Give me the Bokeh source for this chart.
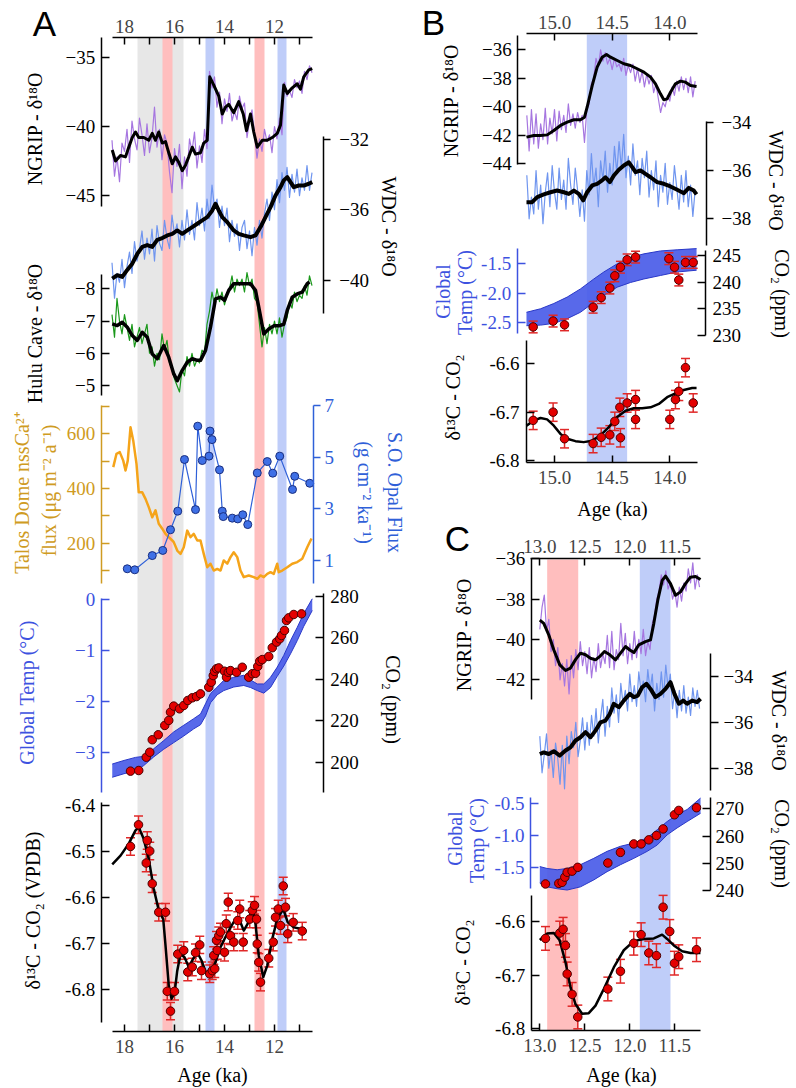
import math
from bokeh.plotting import figure
from bokeh.models import Range1d, LinearAxis, FixedTicker, Label, PrintfTickFormatter, BasicTickFormatter
from bokeh.embed import file_html
from bokeh.resources import INLINE

# ======================= DATA =======================
# ---------- Panel A (age in ka) ----------
a_gray_l = [17.48]; a_gray_r = [15.64]
a_pink_l = [16.48, 12.80]; a_pink_r = [16.08, 12.40]
a_blue_l = [14.76, 11.88]; a_blue_r = [14.40, 11.52]

a_raw_age = [18.5,18.4,18.3,18.2,18.1,18.0,17.9,17.8,17.7,17.6,17.5,17.4,17.3,17.2,17.1,17.0,16.9,16.8,16.7,16.6,
             16.5,16.4,16.3,16.2,16.1,16.0,15.9,15.8,15.7,15.6,15.5,15.4,15.3,15.2,15.1,15.0,14.9,14.8,14.7,14.6,
             14.5,14.4,14.3,14.2,14.1,14.0,13.9,13.8,13.7,13.6,13.5,13.4,13.3,13.2,13.1,13.0,12.9,12.8,12.7,12.6,
             12.5,12.4,12.3,12.2,12.1,12.0,11.9,11.8,11.7,11.6,11.5,11.4,11.3,11.2,11.1,11.0,10.9,10.8,10.7,10.6,10.5]
ngrip_a_raw = [-41.0,-43.6,-42.2,-44.0,-41.2,-41.8,-40.2,-42.6,-39.6,-40.9,-41.7,-39.4,-40.6,-42.1,-39.8,-41.9,-40.8,-38.6,-41.5,-40.2,
               -42.4,-40.6,-41.2,-43.3,-44.8,-41.6,-42.9,-41.3,-44.5,-42.2,-43.6,-40.9,-41.8,-40.4,-43.0,-41.4,-42.6,-40.2,-41.6,-36.0,
               -37.2,-36.4,-38.6,-37.5,-39.8,-38.0,-38.9,-37.6,-39.6,-38.9,-39.5,-37.8,-38.7,-38.3,-40.8,-39.6,-38.8,-40.5,-42.3,-40.9,
               -41.8,-40.2,-41.1,-40.6,-41.9,-40.0,-40.9,-39.4,-40.6,-36.8,-37.8,-37.4,-37.9,-36.6,-37.2,-36.7,-37.6,-36.0,-36.6,-35.6,-36.1]
wdc_a_raw = [-39.0,-41.0,-39.6,-40.1,-38.8,-40.4,-39.2,-38.4,-39.6,-37.8,-38.9,-38.2,-37.2,-38.8,-37.6,-38.5,-37.1,-38.9,-36.9,-37.9,
             -38.3,-36.6,-37.6,-38.2,-36.3,-37.4,-36.8,-38.1,-36.6,-37.7,-36.0,-37.4,-36.6,-37.7,-35.6,-36.9,-35.9,-37.2,-35.4,-36.5,
             -34.6,-35.9,-35.4,-37.0,-35.8,-36.9,-35.9,-37.8,-36.6,-37.5,-36.8,-38.3,-37.0,-36.6,-38.2,-37.2,-38.6,-37.0,-38.0,-36.6,
             -37.6,-36.2,-35.4,-36.6,-35.0,-36.0,-34.3,-35.6,-33.9,-34.9,-33.6,-35.3,-34.0,-35.0,-33.7,-35.2,-34.2,-34.9,-33.5,-34.9,-33.9]
hulu_a_raw = [-7.2,-6.5,-7.7,-7.0,-6.6,-7.2,-6.8,-6.4,-6.9,-6.2,-6.5,-6.8,-6.3,-6.6,-6.9,-6.0,-6.2,-5.6,-6.0,-5.8,
              -6.6,-6.1,-6.4,-5.7,-5.5,-5.2,-5.0,-4.8,-5.5,-5.3,-5.9,-5.6,-6.0,-5.6,-5.8,-5.7,-6.1,-6.0,-6.9,-7.3,
              -7.9,-7.5,-8.0,-7.6,-7.9,-7.5,-7.8,-8.0,-8.4,-7.9,-8.3,-8.1,-8.3,-7.9,-8.5,-8.1,-8.3,-7.7,-7.6,-6.9,
              -6.2,-6.8,-6.3,-6.9,-6.6,-7.0,-6.6,-7.1,-6.5,-6.9,-7.1,-7.6,-7.4,-7.9,-7.6,-7.8,-7.7,-8.1,-7.8,-8.4,-8.1]

ngrip_a_s_age = [18.49,18.36,18.16,17.96,17.83,17.69,17.56,17.43,17.23,17.03,16.89,16.76,16.63,16.49,16.36,16.23,16.09,15.96,15.83,15.69,
                 15.56,15.43,15.29,15.16,14.96,14.83,14.69,14.59,14.43,14.23,14.09,13.96,13.83,13.63,13.43,13.25,13.12,12.96,12.83,12.69,
                 12.49,12.29,12.09,11.89,11.76,11.63,11.49,11.29,11.09,10.96,10.83,10.63,10.49]
ngrip_a_s = [-41.7,-42.5,-42.1,-42.2,-41.5,-40.8,-40.4,-40.8,-40.8,-41.0,-40.5,-41.0,-40.4,-41.2,-41.1,-41.9,-42.7,-42.2,-42.6,-43.2,
             -42.8,-42.2,-41.5,-42.0,-41.9,-41.2,-41.0,-36.4,-37.0,-37.8,-39.1,-38.6,-38.4,-39.0,-38.2,-39.1,-40.3,-39.1,-40.4,-41.5,
             -41.0,-41.0,-40.8,-40.5,-39.9,-37.0,-37.6,-37.2,-36.9,-37.3,-36.4,-35.9,-35.8]
wdc_a_s_age = [18.49,18.29,18.09,17.89,17.69,17.49,17.29,17.09,16.89,16.69,16.49,16.29,16.09,15.89,15.69,15.49,15.29,15.09,14.89,14.69,
               14.49,14.36,14.23,14.09,13.89,13.63,13.43,13.23,12.96,12.76,12.56,12.36,12.16,11.96,11.76,11.63,11.49,11.36,11.23,11.03,
               10.83,10.63,10.49]
wdc_a_s = [-39.9,-39.7,-39.8,-39.4,-39.05,-38.5,-38.1,-38.0,-38.1,-37.7,-37.6,-37.45,-37.36,-37.17,-37.36,-37.17,-36.98,-36.79,-36.6,-36.42,
           -36.04,-35.66,-36.04,-36.42,-36.7,-37.17,-37.36,-37.45,-37.55,-37.45,-36.98,-36.42,-35.85,-35.19,-34.72,-34.34,-34.16,-34.44,-34.72,-34.63,
           -34.63,-34.53,-34.44]
hulu_a_s_age = [18.49,18.29,18.09,17.89,17.69,17.49,17.29,17.09,16.89,16.69,16.43,16.23,16.03,15.89,15.69,15.49,15.29,15.09,14.96,14.76,
                14.56,14.36,14.16,14.00,13.83,13.63,13.36,13.16,12.96,12.76,12.63,12.43,12.23,12.03,11.83,11.63,11.49,11.29,11.09,10.89,
                10.69,10.60]
hulu_a_s = [-6.91,-6.86,-6.96,-6.81,-6.55,-6.40,-6.65,-6.50,-5.98,-5.83,-6.24,-5.88,-5.36,-5.15,-5.47,-5.72,-5.83,-5.78,-5.78,-6.09,
            -6.81,-7.69,-7.74,-7.64,-7.95,-8.16,-8.16,-8.16,-8.16,-7.95,-7.43,-6.60,-6.75,-6.85,-6.85,-6.90,-7.33,-7.74,-7.84,-7.90,
            -8.16,-8.21]

talos_age = [18.45,18.32,18.19,18.05,17.96,17.87,17.76,17.65,17.52,17.43,17.29,17.16,17.03,16.89,16.76,16.63,16.49,16.36,16.23,16.09,
             16.03,15.89,15.76,15.63,15.49,15.36,15.23,15.09,14.96,14.83,14.69,14.56,14.43,14.29,14.16,14.03,13.89,13.76,13.63,13.49,
             13.36,13.23,13.03,12.83,12.69,12.56,12.43,12.29,12.16,12.03,11.89,11.83,11.69,11.49,11.29,11.09,10.89,10.69,10.52]
talos_ca = [478,527,533,502,466,502,624,575,490,386,386,362,332,295,320,271,253,234,222,210,
            204,173,161,185,246,222,234,210,210,161,112,125,100,106,100,137,125,149,167,149,
            100,76,82,76,70,82,76,88,94,88,125,94,100,112,125,131,143,185,217]

opal_age = [17.89,17.59,16.89,16.47,16.16,15.87,15.60,15.16,15.07,14.89,14.62,14.58,14.50,14.20,14.09,14.05,13.69,13.47,13.27,13.07,
            12.69,12.29,12.07,11.79,11.28,11.19,10.59]
opal_flux = [0.68,0.64,1.19,1.39,2.19,2.91,4.91,2.97,6.20,4.87,5.04,6.01,5.68,4.51,2.91,2.70,2.64,2.61,2.77,2.39,
             4.39,4.83,4.38,5.04,3.75,4.26,3.99]

temp_a_age = [18.49,18.02,17.56,17.23,16.83,16.43,16.03,15.63,15.23,14.96,14.76,14.56,14.29,14.03,13.63,13.23,12.96,12.69,12.43,12.16,
              11.89,11.63,11.36,11.09,10.83,10.49]
temp_a_hi = [-3.22,-3.15,-3.09,-3.07,-2.92,-2.76,-2.59,-2.46,-2.33,-2.24,-2.04,-1.84,-1.71,-1.58,-1.52,-1.48,-1.57,-1.65,-1.65,-1.52,
             -1.32,-1.09,-0.80,-0.54,-0.27,0.02]
temp_a_lo = [-3.48,-3.41,-3.35,-3.25,-3.08,-2.93,-2.80,-2.67,-2.53,-2.45,-2.28,-2.02,-1.86,-1.78,-1.71,-1.68,-1.72,-1.78,-1.83,-1.72,
             -1.50,-1.30,-1.06,-0.80,-0.52,-0.21]

co2_a_age = [17.76,17.43,17.13,16.99,16.89,16.65,16.39,16.23,16.16,16.03,15.80,15.63,15.47,15.29,15.12,14.96,14.63,14.53,14.45,14.40,
             14.32,14.23,14.00,13.92,13.85,13.76,13.52,13.29,13.03,12.89,12.76,12.67,12.59,12.49,12.23,12.09,11.92,11.79,11.72,11.60,
             11.52,11.43,11.23,10.92]
co2_a = [195.7,196.0,202.4,204.8,210.8,213.2,217.7,220.1,224.1,227.0,225.7,227.3,229.7,231.0,231.6,232.9,236.1,238.5,241.7,243.7,
         245.0,245.4,243.8,240.9,243.3,244.1,243.3,245.7,240.9,242.6,242.8,246.1,248.6,249.4,250.9,255.1,257.8,259.4,261.0,263.4,
         268.2,269.5,271.1,271.4]

d13c_a_age = [17.76,17.44,17.13,17.09,16.99,16.89,16.63,16.36,16.29,16.16,16.00,15.87,15.63,15.47,15.29,15.16,14.99,14.92,14.59,14.49,
              14.43,14.39,14.32,14.29,14.23,14.16,14.00,13.93,13.85,13.76,13.63,13.47,13.39,13.25,12.99,12.89,12.80,12.72,12.69,12.63,
              12.56,12.23,12.05,11.96,11.85,11.76,11.65,11.56,11.47,11.25,10.89]
d13c_a = [-6.489,-6.442,-6.525,-6.476,-6.499,-6.570,-6.632,-6.632,-6.804,-6.847,-6.804,-6.723,-6.715,-6.762,-6.751,-6.720,-6.703,-6.759,-6.766,-6.759,
          -6.726,-6.755,-6.693,-6.715,-6.683,-6.675,-6.719,-6.657,-6.610,-6.683,-6.697,-6.650,-6.625,-6.697,-6.647,-6.628,-6.617,-6.647,-6.701,-6.741,
          -6.784,-6.732,-6.697,-6.643,-6.625,-6.661,-6.575,-6.621,-6.679,-6.654,-6.673]
d13c_a_err = 0.019
d13c_a_s_age = [18.49,18.16,17.83,17.56,17.43,17.23,17.03,16.83,16.63,16.45,16.36,16.23,16.12,16.00,15.89,15.76,15.60,15.43,15.25,15.09,
                14.92,14.72,14.56,14.36,14.16,13.96,13.76,13.56,13.39,13.23,13.07,12.89,12.76,12.63,12.45,12.29,12.09,11.89,11.65,11.47,
                11.23,10.96]
d13c_a_s = [-6.528,-6.509,-6.483,-6.454,-6.447,-6.473,-6.516,-6.581,-6.628,-6.647,-6.704,-6.791,-6.820,-6.809,-6.759,-6.723,-6.730,-6.751,-6.733,-6.719,
            -6.737,-6.766,-6.762,-6.741,-6.708,-6.686,-6.665,-6.647,-6.650,-6.672,-6.657,-6.621,-6.657,-6.726,-6.773,-6.748,-6.690,-6.647,-6.625,-6.654,
            -6.665,-6.668]

# ---------- Panel B ----------
b_blue_l = [14.72]; b_blue_r = [14.37]
b_raw_age = [15.24,15.22,15.20,15.18,15.16,15.14,15.12,15.10,15.08,15.06,15.04,15.02,15.00,14.98,14.96,14.94,14.92,14.90,14.88,14.86,
             14.84,14.82,14.80,14.78,14.76,14.74,14.72,14.70,14.68,14.66,14.64,14.62,14.60,14.58,14.56,14.54,14.52,14.50,14.48,14.46,
             14.44,14.42,14.40,14.38,14.36,14.34,14.32,14.30,14.28,14.26,14.24,14.22,14.20,14.18,14.16,14.14,14.12,14.10,14.08,14.06,
             14.04,14.02,14.00,13.98,13.96,13.94,13.92,13.90,13.88,13.86,13.84,13.82,13.80,13.78]
ngrip_b_raw = [-40.6,-43.1,-40.2,-42.6,-40.5,-42.9,-41.2,-42.3,-40.1,-42.6,-40.8,-41.9,-40.2,-42.4,-40.3,-41.6,-40.6,-41.8,-39.8,-41.3,
               -40.5,-41.5,-40.4,-41.1,-40.6,-42.5,-40.2,-39.8,-38.4,-38.0,-36.6,-37.2,-36.0,-36.8,-36.2,-37.0,-36.6,-37.4,-36.6,-37.2,
               -37.0,-37.5,-36.6,-37.8,-37.1,-37.6,-37.0,-38.2,-37.3,-38.3,-37.5,-38.6,-37.7,-38.4,-37.8,-39.0,-38.4,-39.4,-40.4,-39.7,
               -40.0,-39.2,-39.6,-38.6,-39.2,-38.2,-38.9,-37.9,-38.8,-38.0,-39.0,-37.9,-39.3,-38.2]
wdc_b_raw = [-36.2,-38.0,-37.1,-37.8,-36.0,-37.6,-36.6,-38.2,-36.9,-36.1,-37.5,-35.8,-36.9,-37.6,-35.9,-37.2,-36.4,-37.6,-35.5,-36.6,
             -37.4,-35.9,-36.8,-37.9,-36.8,-38.1,-36.0,-37.0,-35.3,-36.7,-35.9,-37.5,-35.6,-36.4,-35.2,-36.9,-35.7,-36.6,-35.0,-36.1,
             -34.8,-35.9,-34.5,-36.3,-35.4,-36.6,-34.9,-36.2,-35.6,-37.0,-35.5,-36.3,-35.2,-37.1,-36.0,-36.8,-35.6,-37.5,-36.2,-36.9,
             -35.7,-37.4,-36.5,-37.2,-35.8,-36.7,-37.6,-36.2,-37.3,-36.0,-37.5,-36.6,-37.9,-36.8]
ngrip_b_s_age = [15.243,15.179,15.121,15.063,15.006,14.948,14.890,14.832,14.775,14.740,14.717,14.673,14.630,14.587,14.549,14.514,14.456,14.399,14.341,14.283,
                 14.225,14.167,14.124,14.081,14.052,14.023,13.994,13.951,13.907,13.864,13.820,13.768]
ngrip_b_s = [-42.13,-42.01,-42.01,-41.97,-41.66,-41.31,-41.08,-40.91,-40.91,-40.73,-40.03,-38.51,-37.22,-36.52,-36.33,-36.52,-36.75,-36.98,-37.10,-37.33,
             -37.57,-37.92,-38.39,-39.09,-39.51,-39.44,-38.98,-38.39,-38.20,-38.27,-38.51,-38.58]
wdc_b_s_age = [15.243,15.194,15.150,15.093,15.035,14.977,14.919,14.876,14.832,14.789,14.751,14.717,14.673,14.630,14.587,14.558,14.520,14.485,14.442,14.399,
               14.355,14.326,14.297,14.254,14.211,14.167,14.110,14.052,13.994,13.936,13.878,13.835,13.792,13.768]
wdc_b_s = [-37.31,-37.31,-37.10,-36.99,-36.90,-36.83,-36.90,-36.97,-36.83,-36.97,-37.24,-36.90,-36.62,-36.55,-36.41,-36.28,-36.48,-36.21,-35.97,-35.79,
           -35.66,-35.86,-36.07,-36.00,-36.14,-36.28,-36.48,-36.55,-36.66,-36.80,-36.94,-36.72,-36.83,-36.99]
temp_b_age = [15.243,15.121,15.006,14.890,14.775,14.659,14.572,14.456,14.341,14.225,14.081,13.936,13.768]
temp_b_hi = [-2.33,-2.27,-2.18,-2.07,-1.93,-1.76,-1.64,-1.50,-1.39,-1.33,-1.28,-1.26,-1.24]
temp_b_lo = [-2.56,-2.55,-2.52,-2.44,-2.33,-2.16,-2.04,-1.90,-1.82,-1.76,-1.70,-1.64,-1.61]
co2_b_age = [15.185,15.012,14.913,14.665,14.595,14.520,14.477,14.428,14.370,14.297,14.008,13.959,13.922,13.864,13.797]
co2_b = [231.6,232.7,232.0,235.3,237.1,238.9,241.2,242.8,244.2,244.7,244.4,242.8,240.4,243.7,243.7]
co2_b_err = 1.1
d13c_b_age = [15.185,15.012,14.913,14.665,14.595,14.520,14.477,14.433,14.428,14.370,14.297,14.297,14.000,13.951,13.922,13.864,13.797]
d13c_b = [-6.717,-6.700,-6.755,-6.765,-6.752,-6.747,-6.719,-6.690,-6.753,-6.681,-6.674,-6.715,-6.715,-6.674,-6.657,-6.608,-6.681]
d13c_b_err = 0.019
d13c_b_s_age = [15.243,15.179,15.121,15.064,15.006,14.948,14.890,14.818,14.746,14.673,14.601,14.529,14.456,14.384,14.312,14.240,14.167,14.095,14.023,13.951,
                13.879,13.806,13.768]
d13c_b_s = [-6.728,-6.717,-6.712,-6.715,-6.728,-6.745,-6.755,-6.760,-6.762,-6.759,-6.748,-6.731,-6.710,-6.697,-6.692,-6.692,-6.690,-6.683,-6.669,-6.661,
            -6.654,-6.650,-6.650]

# ---------- Panel C ----------
c_pink_l = [12.918]; c_pink_r = [12.573]
c_blue_l = [11.889]; c_blue_r = [11.548]
c_raw_age = [13.000,12.975,12.950,12.925,12.900,12.875,12.850,12.825,12.800,12.775,12.750,12.725,12.700,12.675,12.650,12.625,12.600,12.575,
             12.550,12.525,12.500,12.475,12.450,12.425,12.400,12.375,12.350,12.325,12.300,12.275,12.250,12.225,12.200,12.175,12.150,12.125,
             12.100,12.075,12.050,12.025,12.000,11.975,11.950,11.925,11.900,11.875,11.850,11.825,11.800,11.775,11.750,11.725,11.700,11.675,
             11.650,11.625,11.600,11.575,11.550,11.525,11.500,11.475,11.450,11.425,11.400,11.375,11.350,11.325,11.300,11.275,11.250,11.225]
ngrip_c_raw = [-39.5,-38.4,-37.8,-39.6,-39.0,-40.6,-40.0,-41.3,-40.4,-42.0,-41.2,-42.3,-41.0,-42.7,-40.8,-41.9,-40.5,-41.5,
               -40.1,-41.3,-40.6,-41.7,-40.4,-41.9,-40.9,-41.6,-40.2,-41.4,-40.7,-41.2,-39.8,-41.4,-39.6,-41.5,-40.5,-41.0,
               -39.2,-40.8,-39.7,-41.2,-40.2,-41.0,-39.6,-40.9,-40.0,-40.7,-39.5,-40.8,-40.1,-40.5,-39.2,-38.8,-38.0,-37.6,
               -36.8,-37.3,-36.6,-37.5,-37.2,-38.0,-37.6,-38.4,-37.4,-38.1,-37.2,-37.6,-36.5,-37.2,-36.2,-37.5,-36.8,-37.4]
wdc_c_raw = [-36.6,-38.2,-37.4,-36.5,-38.0,-37.2,-38.4,-36.9,-37.6,-38.7,-37.0,-38.9,-36.6,-37.8,-36.4,-37.1,-36.0,-37.5,
             -36.8,-35.8,-37.2,-36.0,-37.0,-35.7,-36.6,-35.4,-36.9,-35.8,-35.0,-36.6,-35.3,-36.2,-34.5,-35.6,-34.8,-36.0,
             -34.3,-35.2,-34.6,-35.5,-33.9,-35.1,-34.4,-35.3,-33.8,-34.7,-34.2,-35.1,-33.7,-34.6,-33.9,-35.5,-34.3,-35.0,
             -33.8,-34.9,-33.5,-34.5,-33.9,-35.4,-34.6,-35.8,-34.6,-35.5,-34.4,-35.6,-34.9,-35.7,-34.5,-35.3,-34.6,-35.4]
ngrip_c_s_age = [13.0,12.956,12.9,12.844,12.778,12.714,12.659,12.603,12.548,12.492,12.437,12.381,12.326,12.281,12.222,12.159,12.103,12.048,12.0,11.955,
                 11.9,11.826,11.770,11.733,11.689,11.640,11.603,11.548,11.492,11.437,11.381,11.326,11.270,11.214]
ngrip_c_s = [-39.04,-39.20,-39.78,-40.52,-41.26,-41.54,-41.42,-41.0,-40.68,-40.76,-40.93,-41.01,-40.81,-40.60,-40.76,-41.01,-40.68,-40.35,-40.52,-40.65,
             -40.27,-40.11,-40.02,-39.20,-38.05,-37.07,-36.86,-37.23,-37.81,-37.64,-37.23,-36.91,-36.88,-37.03]
wdc_c_s_age = [13.0,12.956,12.9,12.844,12.778,12.714,12.659,12.603,12.548,12.492,12.437,12.381,12.326,12.270,12.222,12.178,12.122,12.067,12.0,11.955,
               11.911,11.863,11.815,11.770,11.715,11.659,11.603,11.548,11.504,11.455,11.407,11.363,11.307,11.252,11.214]
wdc_c_s = [-37.38,-37.31,-37.38,-37.26,-37.45,-37.23,-37.09,-36.79,-36.65,-36.43,-36.65,-36.36,-36.0,-35.92,-35.63,-35.19,-35.34,-35.05,-34.76,-34.90,
           -34.83,-34.47,-34.32,-34.54,-34.90,-34.76,-34.54,-34.25,-34.76,-35.19,-35.05,-35.19,-35.05,-35.12,-34.97]
temp_c_age = [13.0,12.919,12.807,12.696,12.548,12.400,12.252,12.103,11.955,11.807,11.696,11.585,11.474,11.363,11.214]
temp_c_hi = [-1.49,-1.52,-1.54,-1.52,-1.46,-1.36,-1.25,-1.17,-1.12,-1.04,-0.91,-0.78,-0.67,-0.59,-0.41]
temp_c_lo = [-1.75,-1.81,-1.84,-1.86,-1.81,-1.70,-1.57,-1.46,-1.36,-1.25,-1.15,-0.99,-0.88,-0.78,-0.65]
co2_c_age = [12.937,12.789,12.752,12.722,12.696,12.641,12.578,12.244,12.104,11.956,11.874,11.789,11.704,11.630,11.504,11.456,11.259]
co2_c = [242.4,242.6,243.0,244.9,246.7,247.1,248.5,250.1,254.0,257.1,257.1,258.6,260.2,262.6,267.8,269.4,270.4]
d13c_c_age = [12.937,12.778,12.741,12.715,12.696,12.641,12.578,12.244,12.104,11.956,11.874,11.789,11.704,11.630,11.556,11.504,11.456,11.259]
d13c_c = [-6.632,-6.622,-6.615,-6.645,-6.698,-6.736,-6.778,-6.726,-6.693,-6.641,-6.625,-6.659,-6.664,-6.574,-6.619,-6.678,-6.666,-6.653]
d13c_c_err = 0.022
d13c_c_s_age = [13.0,12.919,12.844,12.778,12.715,12.659,12.604,12.530,12.456,12.381,12.289,12.178,12.067,11.956,11.844,11.733,11.641,11.585,11.511,11.418,
                11.326,11.215]
d13c_c_s = [-6.635,-6.623,-6.622,-6.636,-6.676,-6.723,-6.754,-6.772,-6.771,-6.757,-6.726,-6.686,-6.654,-6.637,-6.633,-6.632,-6.625,-6.633,-6.645,-6.656,
            -6.659,-6.659]

# tick values
a_age_ticks = [18, 16, 14, 12]; a_age_minor = [17, 15, 13, 11]
b_age_ticks = [15.0, 14.5, 14.0]
c_age_ticks = [13.0, 12.5, 12.0, 11.5]

# ======================= STYLE / LAYOUT =======================
SERIF = "Liberation Serif"
SANS = "Liberation Sans"
TICK_FS = "19px"
LAB_FS = "20px"
PURPLE = "#a676e0"; LBLUE = "#6f95ef"; GREEN = "#1a981a"
ORANGE = "#f5a41a"; GOLD = "#cf9b22"
OBLUE = "#2f60d8"; OFILL = "#3f70e6"
TBLUE = "#3d52e0"; TFILL = "#4a5ce8"; TEDGE = "#2a38c8"
RED = "#e40000"; REDBAR = "#e02828"; REDEDGE = "#4a0000"
GRAY = "#e7e7e7"; PINK = "#ffbebe"; BLUEB = "#bfcdf9"

W, H, X0, Y0 = 796, 1088, 0, 0


def yr(v1, y1, v2, y2):
    k = (v2 - v1) / (y2 - y1)
    return Range1d(start=v1 + k * (Y0 + H - y1), end=v1 + k * (Y0 - y1))


def xr(v1, x1, v2, x2):
    k = (v2 - v1) / (x2 - x1)
    return Range1d(start=v1 + k * (X0 - x1), end=v1 + k * (X0 + W - x1))


XR = {"xA": xr(18, 124, 12, 274), "xB": xr(15.0, 554, 14.0, 669.3), "xC": xr(13.0, 539.3, 12.0, 629.3)}
YR = {
    "ngA": yr(-35, 57, -45, 195), "wdA": yr(-32, 138.5, -40, 280), "huA": yr(-8, 288.3, -5, 385),
    "taA": yr(600, 433.3, 200, 542.7), "opA": yr(7, 405, 1, 560), "teA": yr(0, 599.3, -3, 752.3),
    "coA": yr(280, 595.5, 200, 761.7), "dA": yr(-6.4, 805, -6.8, 989),
    "ngB": yr(-36, 49.3, -44, 163.3), "wdB": yr(-34, 121.7, -38, 218.3), "teB": yr(-1.5, 263.3, -2.5, 321.7),
    "coB": yr(245, 255, 230, 335), "dB": yr(-6.6, 363.3, -6.8, 460),
    "ngC": yr(-36, 558.3, -42, 679.3), "wdC": yr(-34, 676, -38, 767.7), "teC": yr(-0.5, 803.3, -1.5, 866.7),
    "coC": yr(270, 808.3, 240, 890), "dC": yr(-6.6, 920.7, -6.8, 1028.3),
}


def yval(name, y):
    r = YR[name]
    return r.start + (r.end - r.start) * (Y0 + H - y) / H


def xval(name, x):
    r = XR[name]
    return r.start + (r.end - r.start) * (x - X0) / W


p = figure(width=W, height=H, x_range=Range1d(X0, X0 + W), y_range=Range1d(Y0 + H, Y0),
           x_axis_location=None, y_axis_location=None, toolbar_location=None,
           output_backend="svg", min_border=0, outline_line_color=None,
           background_fill_color="white", border_fill_color="white")
for g in p.grid:
    g.visible = False
p.extra_x_ranges = XR
p.extra_y_ranges = YR


def bands(xn, lefts, rights, top, bottom, color):
    p.quad(left=lefts, right=rights, top=[top] * len(lefts), bottom=[bottom] * len(lefts),
           x_range_name=xn, fill_color=color, line_color=None)


def ln(xn, yn, xs, ys, color, width):
    n = min(len(xs), len(ys))
    p.line(xs[:n], ys[:n], x_range_name=xn, y_range_name=yn, line_color=color,
           line_width=width, line_join="round")


def pts(xn, yn, xs, ys, fill=RED, edge=REDEDGE, size=8.5):
    n = min(len(xs), len(ys))
    p.scatter(xs[:n], ys[:n], x_range_name=xn, y_range_name=yn, size=size,
              fill_color=fill, line_color=edge, line_width=1)


def ebar(xn, yn, xs, ys, err, color=REDBAR):
    n = min(len(xs), len(ys))
    xs = xs[:n]
    lo = [v - err for v in ys[:n]]
    hi = [v + err for v in ys[:n]]
    p.segment(x0=xs, y0=lo, x1=xs, y1=hi, x_range_name=xn, y_range_name=yn,
              line_color=color, line_width=1.5)
    for yy in (lo, hi):
        p.scatter(xs, yy, marker="dash", size=9, line_color=color, line_width=1.5,
                  x_range_name=xn, y_range_name=yn)


def band_fill(xn, yn, xs, lo, hi):
    p.varea(x=xs, y1=lo, y2=hi, x_range_name=xn, y_range_name=yn, fill_color=TFILL, fill_alpha=0.92)
    ln(xn, yn, xs, lo, TEDGE, 1)
    ln(xn, yn, xs, hi, TEDGE, 1)


def yaxis(name, loc, y_top, y_bot, ticks, side, color="black", tin=8, tout=0, standoff=6, minor=(), fmt=None):
    b0, b1 = sorted([yval(name, y_top), yval(name, y_bot)])
    ax = LinearAxis(y_range_name=name, fixed_location=loc, bounds=(b0, b1),
                    ticker=FixedTicker(ticks=list(ticks), minor_ticks=list(minor)),
                    formatter=PrintfTickFormatter(format=fmt) if fmt else BasicTickFormatter(),
                    axis_line_color=color, axis_line_width=1.5,
                    major_tick_line_color=color, major_tick_line_width=1.5,
                    minor_tick_line_color=color, minor_tick_line_width=1.5,
                    major_tick_in=tin, major_tick_out=tout,
                    minor_tick_in=tin if minor else 0, minor_tick_out=tout if minor else 0,
                    major_label_text_color=color, major_label_text_font=SERIF,
                    major_label_text_font_size=TICK_FS, major_label_standoff=standoff)
    p.add_layout(ax, side)


def xaxis(name, loc, x_l, x_r, ticks, side, minor=(), standoff=6, fmt=None):
    b0, b1 = sorted([xval(name, x_l), xval(name, x_r)])
    ax = LinearAxis(x_range_name=name, fixed_location=loc, bounds=(b0, b1),
                    ticker=FixedTicker(ticks=list(ticks), minor_ticks=list(minor)),
                    formatter=PrintfTickFormatter(format=fmt) if fmt else BasicTickFormatter(),
                    axis_line_color="black", axis_line_width=1.5,
                    major_tick_line_color="black", major_tick_line_width=1.5,
                    minor_tick_line_color="black", minor_tick_line_width=1.5,
                    major_tick_in=7, major_tick_out=0,
                    minor_tick_in=7 if minor else 0, minor_tick_out=0,
                    major_label_text_font=SERIF, major_label_text_font_size=TICK_FS,
                    major_label_standoff=standoff)
    p.add_layout(ax, side)


def label(x, y, text, angle=0.0, color="black", size=LAB_FS, font=SERIF):
    p.add_layout(Label(x=x, y=y, text=text, angle=angle, text_align="center", text_baseline="middle",
                       text_color=color, text_font_size=size, text_font=font))


UP = math.pi / 2
DOWN = -math.pi / 2

# ---------------- Panel A ----------------
bands("xA", a_gray_l, a_gray_r, 37, 1031, GRAY)
bands("xA", a_pink_l, a_pink_r, 37, 1031, PINK)
bands("xA", a_blue_l, a_blue_r, 37, 1031, BLUEB)

ln("xA", "ngA", a_raw_age, ngrip_a_raw, PURPLE, 1.2)
ln("xA", "ngA", ngrip_a_s_age, ngrip_a_s, "black", 3)
ln("xA", "wdA", a_raw_age, wdc_a_raw, LBLUE, 1.2)
ln("xA", "wdA", wdc_a_s_age, wdc_a_s, "black", 4)
ln("xA", "huA", a_raw_age, hulu_a_raw, GREEN, 1.2)
ln("xA", "huA", hulu_a_s_age, hulu_a_s, "black", 3.5)
ln("xA", "taA", talos_age, talos_ca, ORANGE, 2.5)
ln("xA", "opA", opal_age, opal_flux, OBLUE, 1.2)
pts("xA", "opA", opal_age, opal_flux, fill=OFILL, edge="#1a2f80", size=8)
band_fill("xA", "teA", temp_a_age, temp_a_lo, temp_a_hi)
pts("xA", "coA", co2_a_age, co2_a)
ebar("xA", "dA", d13c_a_age, d13c_a, d13c_a_err)
ln("xA", "dA", d13c_a_s_age, d13c_a_s, "black", 2.5)
pts("xA", "dA", d13c_a_age, d13c_a)

xaxis("xA", 37, 112, 312, a_age_ticks, "above", minor=a_age_minor, standoff=5)
xaxis("xA", 1031, 112, 312, a_age_ticks, "below", minor=a_age_minor, standoff=8)
yaxis("ngA", 100.7, 37, 206, [-35, -40, -45], "left")
yaxis("wdA", 322.7, 136, 313, [-32, -36, -40], "right", tin=0, tout=7, standoff=9)
yaxis("huA", 100.7, 274, 395, [-8, -7, -6, -5], "left")
yaxis("taA", 100.7, 405, 583, [200, 400, 600], "left", color=GOLD, minor=[100, 300, 500, 700])
yaxis("opA", 313, 405, 583, [1, 3, 5, 7], "right", color=OBLUE, tin=0, tout=7, standoff=4)
yaxis("teA", 100.7, 598, 792, [0, -1, -2, -3], "left", color=TBLUE)
yaxis("coA", 322.7, 593, 792, [200, 220, 240, 260, 280], "right", tin=8, tout=0, standoff=7)
yaxis("dA", 100.7, 802, 1022, [-6.4, -6.5, -6.6, -6.7, -6.8], "left", fmt="%.1f")

label(44, 23, "A", size="35px", font=SANS)
label(34, 128, "NGRIP - δ¹⁸O", UP)
label(388, 226, "WDC - δ¹⁸O", DOWN)
label(34, 333, "Hulu Cave - δ¹⁸O", UP)
label(21, 492, "Talos Dome nssCa²⁺", UP, color=GOLD)
label(48, 490, "flux (μg m⁻² a⁻¹)", UP, color=GOLD)
label(394, 492, "S.O. Opal Flux", DOWN, color=OBLUE)
label(364, 492, "(g cm⁻² ka⁻¹)", DOWN, color=OBLUE)
label(26, 692, "Global Temp (°C)", UP, color=TBLUE)
label(392, 699, "CO₂ (ppm)", DOWN)
label(32, 910, "δ¹³C - CO₂ (VPDB)", UP)
label(212, 1074, "Age (ka)")

# ---------------- Panel B ----------------
bands("xB", b_blue_l, b_blue_r, 34, 462, BLUEB)
ln("xB", "ngB", b_raw_age, ngrip_b_raw, PURPLE, 1.2)
ln("xB", "ngB", ngrip_b_s_age, ngrip_b_s, "black", 3)
ln("xB", "wdB", b_raw_age, wdc_b_raw, LBLUE, 1.2)
ln("xB", "wdB", wdc_b_s_age, wdc_b_s, "black", 4)
band_fill("xB", "teB", temp_b_age, temp_b_lo, temp_b_hi)
ebar("xB", "coB", co2_b_age, co2_b, co2_b_err)
pts("xB", "coB", co2_b_age, co2_b)
ebar("xB", "dB", d13c_b_age, d13c_b, d13c_b_err)
ln("xB", "dB", d13c_b_s_age, d13c_b_s, "black", 2.5)
pts("xB", "dB", d13c_b_age, d13c_b)

xaxis("xB", 33.3, 526, 696.7, b_age_ticks, "above", standoff=5, fmt="%.1f")
xaxis("xB", 462, 526, 696.7, b_age_ticks, "below", standoff=8, fmt="%.1f")
yaxis("ngB", 517.3, 35, 164, [-44, -42, -40, -38, -36], "left")
yaxis("wdB", 706, 121, 245, [-38, -36, -34], "right", tin=0, tout=7, standoff=8)
yaxis("teB", 516.7, 248, 333, [-2.5, -2.0, -1.5], "left", color=TBLUE, fmt="%.1f")
yaxis("coB", 705, 250, 335, [230, 235, 240, 245], "right", tin=8, tout=0, standoff=7)
yaxis("dB", 526, 340, 462, [-6.8, -6.7, -6.6], "left", standoff=7, fmt="%.1f")

label(433, 22, "B", size="35px", font=SANS)
label(450, 100, "NGRIP - δ¹⁸O", UP)
label(775, 180, "WDC - δ¹⁸O", DOWN)
label(442, 291, "Global", UP, color=TBLUE)
label(464, 292, "Temp (°C)", UP, color=TBLUE)
label(781, 293, "CO₂ (ppm)", DOWN)
label(452, 397, "δ¹³C - CO₂", UP)
label(612, 508, "Age (ka)")

# ---------------- Panel C ----------------
bands("xC", c_pink_l, c_pink_r, 559, 1030, PINK)
bands("xC", c_blue_l, c_blue_r, 559, 1030, BLUEB)
ln("xC", "ngC", c_raw_age, ngrip_c_raw, PURPLE, 1.2)
ln("xC", "ngC", ngrip_c_s_age, ngrip_c_s, "black", 3)
ln("xC", "wdC", c_raw_age, wdc_c_raw, LBLUE, 1.2)
ln("xC", "wdC", wdc_c_s_age, wdc_c_s, "black", 4)
band_fill("xC", "teC", temp_c_age, temp_c_lo, temp_c_hi)
pts("xC", "coC", co2_c_age, co2_c)
ebar("xC", "dC", d13c_c_age, d13c_c, d13c_c_err)
ln("xC", "dC", d13c_c_s_age, d13c_c_s, "black", 2.5)
pts("xC", "dC", d13c_c_age, d13c_c)

xaxis("xC", 558.3, 530, 700, c_age_ticks, "above", standoff=6, fmt="%.1f")
xaxis("xC", 1030, 531, 700, c_age_ticks, "below", standoff=8, fmt="%.1f")
yaxis("ngC", 530.7, 558, 699, [-42, -40, -38, -36], "left")
yaxis("wdC", 710, 653, 790, [-38, -36, -34], "right", tin=0, tout=8, standoff=5)
yaxis("teC", 530, 797, 888, [-1.5, -1.0, -0.5], "left", color=TBLUE, fmt="%.1f")
yaxis("coC", 710, 797, 890, [240, 250, 260, 270], "right", tin=8, tout=0, standoff=5)
yaxis("dC", 530.7, 895, 1030, [-6.8, -6.7, -6.6], "left", fmt="%.1f")

label(457, 538, "C", size="35px", font=SANS)
label(463, 634, "NGRIP - δ¹⁸O", UP)
label(778, 720, "WDC - δ¹⁸O", DOWN)
label(454, 838, "Global", UP, color=TBLUE)
label(476, 840, "Temp (°C)", UP, color=TBLUE)
label(781, 843, "CO₂ (ppm)", DOWN)
label(462, 962, "δ¹³C - CO₂", UP)
label(621, 1074, "Age (ka)")

open("out.html", "w").write(file_html(p, INLINE))
